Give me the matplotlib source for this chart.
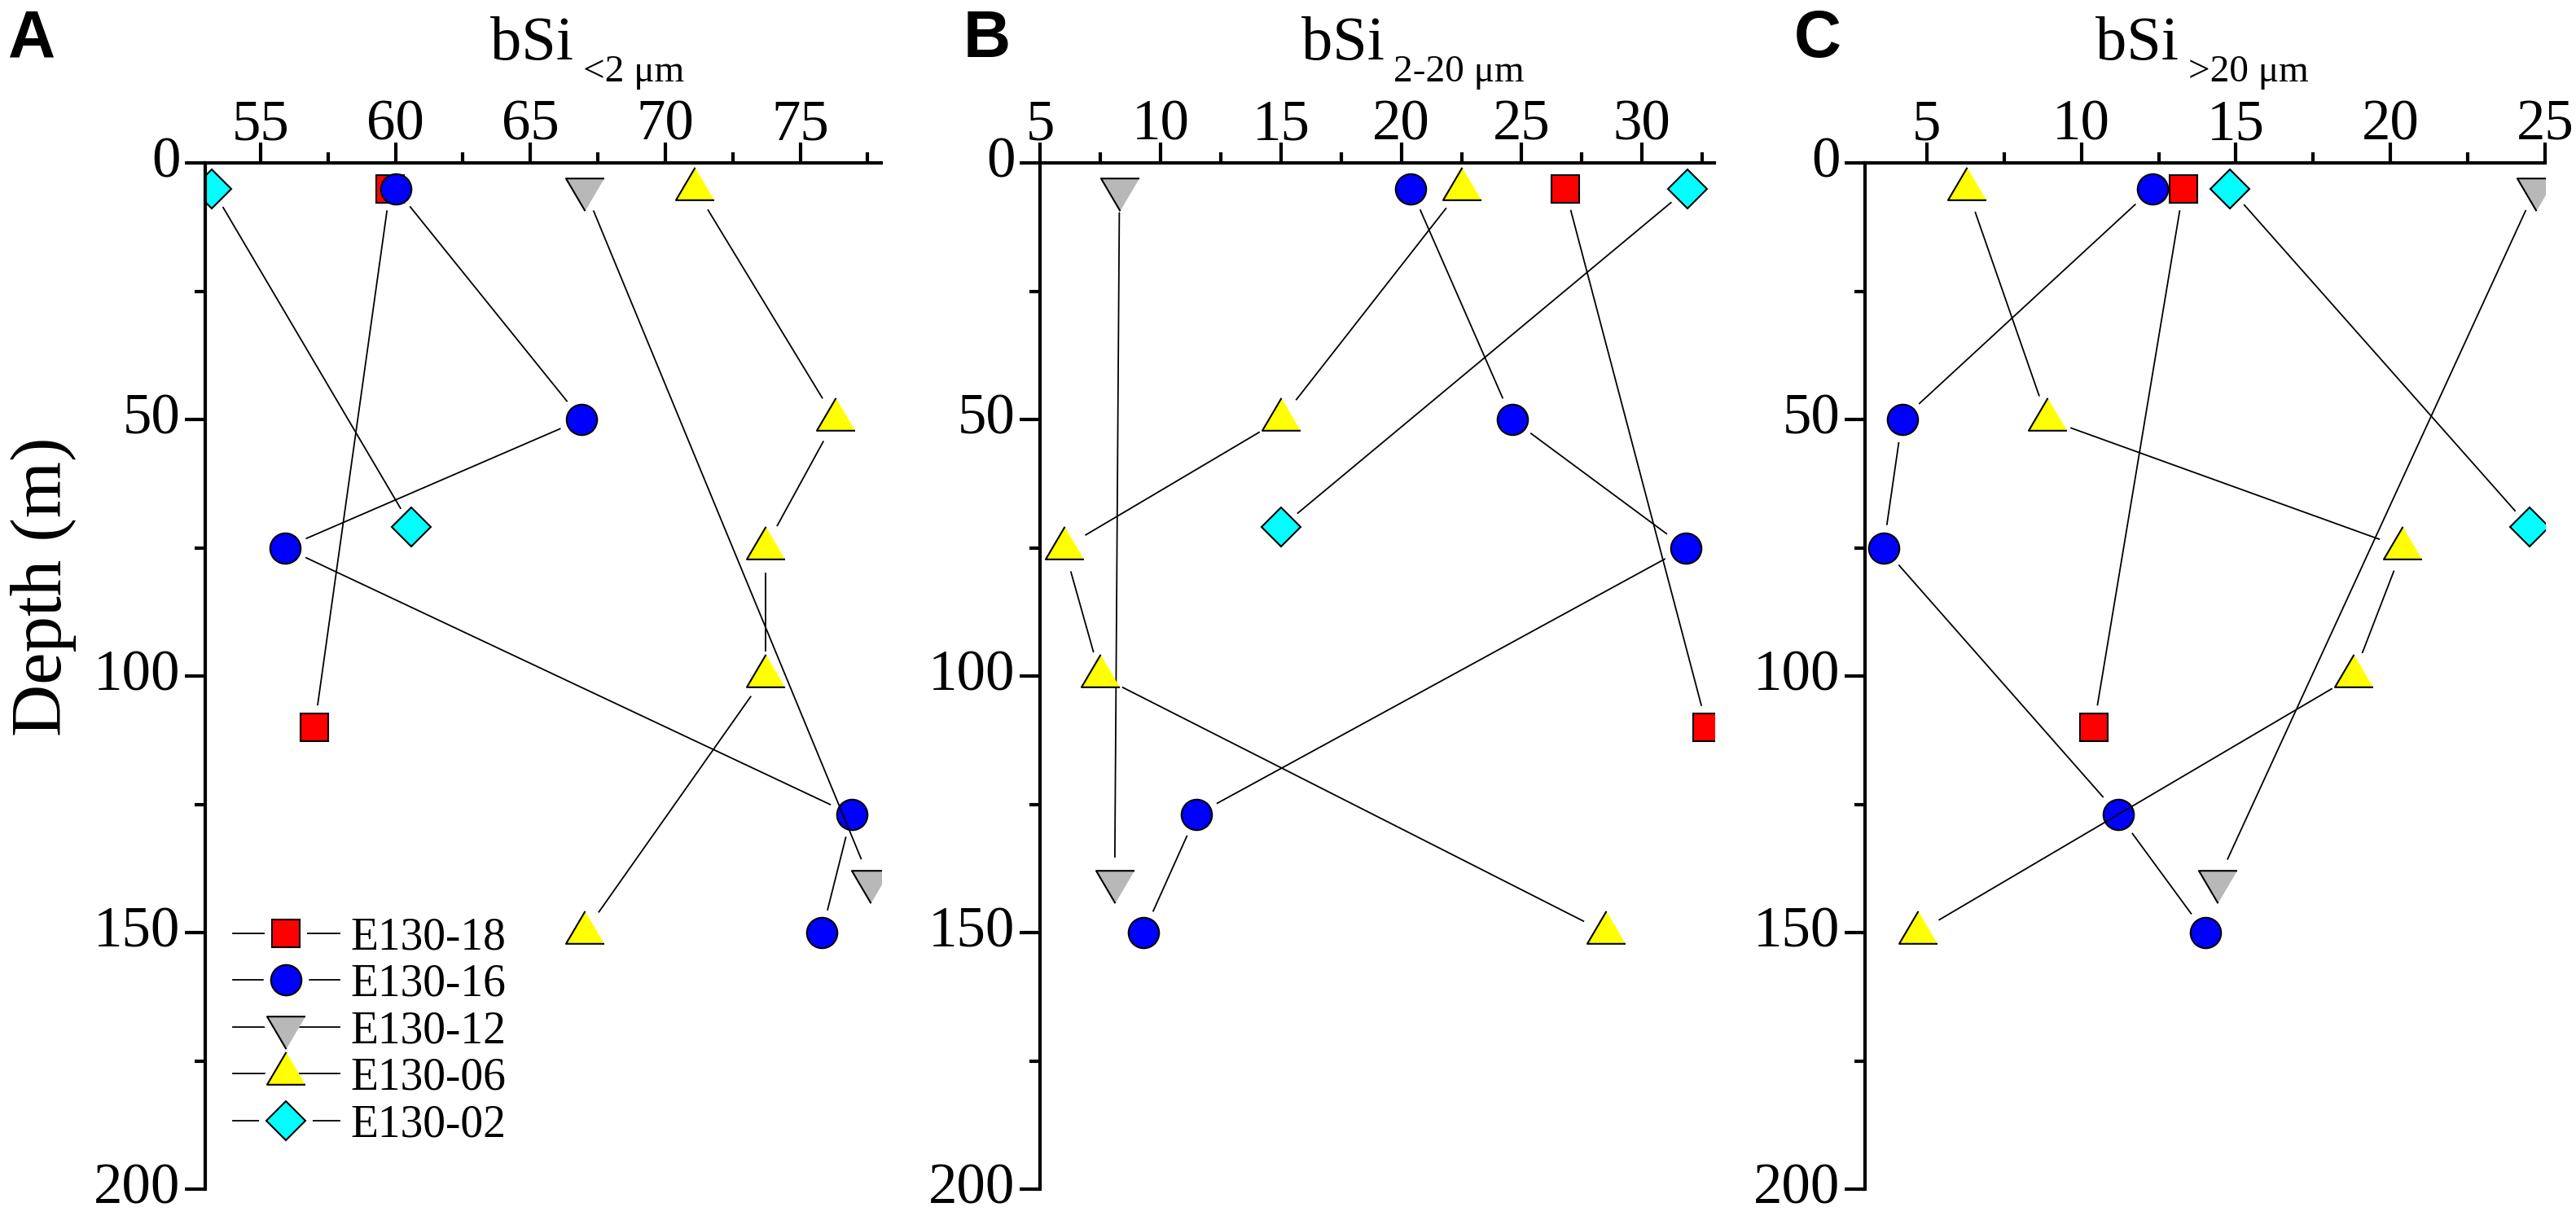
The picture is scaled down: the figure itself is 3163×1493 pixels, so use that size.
import numpy as np
import matplotlib.pyplot as plt
from matplotlib.lines import Line2D
from matplotlib.markers import MarkerStyle
from matplotlib.ticker import MultipleLocator

plt.rcParams['font.family'] = ['Liberation Serif', 'DejaVu Serif']

# stations and sampling depths (m)
stations = ['E130-18', 'E130-16', 'E130-12', 'E130-06', 'E130-02']
depth_18 = [5, 110]
depth_16 = [5, 50, 75, 127, 150]
depth_12 = [5, 140]
depth_06 = [5, 50, 75, 100, 150]
depth_02 = [5, 71]

# bSi <2 um
a_18 = [59.8, 57.0]
a_16 = [60.0, 66.9, 55.9, 76.9, 75.8]
a_12 = [67.0, 77.6]
a_06 = [71.1, 76.3, 73.7, 73.7, 67.0]
a_02 = [53.2, 60.6]

# bSi 2-20 um
b_18 = [26.8, 32.7]
b_16 = [20.4, 24.6, 31.8, 11.5, 9.3]
b_12 = [8.3, 8.1]
b_06 = [22.5, 15.0, 6.0, 7.5, 28.5]
b_02 = [31.9, 15.0]

# bSi >20 um
c_18 = [13.3, 10.4]
c_16 = [12.3, 4.2, 3.6, 11.2, 14.0]
c_12 = [24.7, 14.4]
c_06 = [6.3, 8.9, 20.4, 18.8, 4.7]
c_02 = [14.8, 24.5]

depths = [depth_18, depth_16, depth_12, depth_06, depth_02]
panel_values = [
    [a_18, a_16, a_12, a_06, a_02],
    [b_18, b_16, b_12, b_06, b_02],
    [c_18, c_16, c_12, c_06, c_02],
]
panel_letters = ['A', 'B', 'C']
subscripts = ['<2 μm', '2-20 μm', '>20 μm']
xlims = [(52.95, 78), (5, 33), (3, 25)]

# triangles centred on their centroid, like Origin draws them
tri_up = [(0, 0.567), (-0.5, -0.283), (0.5, -0.283)]
tri_dn = [(0, -0.567), (-0.5, 0.283), (0.5, 0.283)]
markers = ['s', 'o', tri_dn, tri_up, 'D']
msizes = [24.5, 27, 38.4, 38.4, 24.4]
colors = ['#ff0000', '#0000ff', '#b8b8b8', '#ffff00', '#00ffff']
cuts = [28, 29, 30, 31, 27]   # gap between line end and marker centre, px

W, H = 3163, 1493
fig = plt.figure(figsize=(W / 100, H / 100), dpi=100)
axes_px = [(252, 1082), (1277, 2105), (2290, 3125)]
top_px, bot_px = 200, 1460
title_px = [(602, 716), (1598, 1711), (2573, 2687)]
letter_px = [10, 1183, 2203]


def gapped_line(ax, xs, ys, cut, **kw):
    pts = ax.transData.transform(np.column_stack([xs, ys]))
    inv = ax.transData.inverted()
    for p0, p1 in zip(pts[:-1], pts[1:]):
        v = p1 - p0
        L = np.hypot(*v)
        if L <= 2 * cut:
            continue
        u = v / L
        seg = inv.transform(np.array([p0 + u * cut, p1 - u * cut]))
        ax.plot(seg[:, 0], seg[:, 1], **kw)


axes = []
for k in range(3):
    l, r = axes_px[k]
    ax = fig.add_axes([l / W, 1 - bot_px / H, (r - l) / W, (bot_px - top_px) / H])
    axes.append(ax)
    ax.set_xlim(*xlims[k])
    ax.set_ylim(200, 0)
    ax.xaxis.set_major_locator(MultipleLocator(5))
    ax.xaxis.set_minor_locator(MultipleLocator(2.5))
    ax.yaxis.set_major_locator(MultipleLocator(50))
    ax.yaxis.set_minor_locator(MultipleLocator(25))
    for s in ['right', 'bottom']:
        ax.spines[s].set_visible(False)
    for s in ['top', 'left']:
        ax.spines[s].set_linewidth(3)
        ax.spines[s].set_zorder(20)
    ax.xaxis.set_zorder(20)
    ax.yaxis.set_zorder(20)
    ax.tick_params(axis='x', which='both', top=True, bottom=False,
                   labeltop=True, labelbottom=False, direction='out', width=3)
    ax.tick_params(axis='x', which='major', length=18, labelsize=51, pad=-8)
    ax.tick_params(axis='x', which='minor', length=9.5)
    ax.tick_params(axis='y', which='both', left=True, right=False,
                   direction='out', width=3)
    ax.tick_params(axis='y', which='major', length=18, labelsize=51, pad=4)
    ax.tick_params(axis='y', which='minor', length=9.5)
    plt.setp(ax.get_yticklabels(), va='center')

    for i in range(5):
        xs = panel_values[k][i]
        ys = depths[i]
        z = 3 + i
        gapped_line(ax, xs, ys, cuts[i], color='k', lw=1.3, zorder=z)
        ax.plot(xs, ys, ls='none', marker=markers[i], ms=msizes[i],
                mfc=colors[i], mec='k', mew=1.5, zorder=z + 0.5)

    t0, t1 = title_px[k]
    fig.text(t0 / W, 1 - 73 / H, 'bSi', fontsize=55, ha='left', va='baseline')
    fig.text(t1 / W, 1 - 100 / H, subscripts[k], fontsize=34, ha='left', va='baseline')
    fig.text(letter_px[k] / W, 1 - 70 / H, panel_letters[k], fontsize=58,
             fontweight='bold', family=['Liberation Sans', 'DejaVu Sans'],
             ha='left', va='baseline')

fig.text(54 / W, 1 - 720 / H, 'Depth (m)', rotation=90, fontsize=64,
         ha='center', va='center')

# legend: line - gap - marker - gap - line
handles = []
for i in range(5):
    ln = Line2D([], [], color='k', lw=1.3)
    halo = Line2D([], [], ls='none', marker=MarkerStyle(markers[i], joinstyle='round'),
                  ms=msizes[i], mfc='w', mec='w', mew=13)
    mk = Line2D([], [], ls='none', marker=markers[i], ms=msizes[i],
                mfc=colors[i], mec='k', mew=1.5)
    handles.append((ln, halo, mk))
axes[0].legend(handles, stations, loc='upper left',
               bbox_to_anchor=(286 / W, 1 - 1125 / H), bbox_transform=fig.transFigure,
               frameon=False, fontsize=40, handlelength=2.35, handletextpad=0.25,
               labelspacing=0.1, borderpad=0, borderaxespad=0, numpoints=1)

fig.savefig('out.png', dpi=100)
